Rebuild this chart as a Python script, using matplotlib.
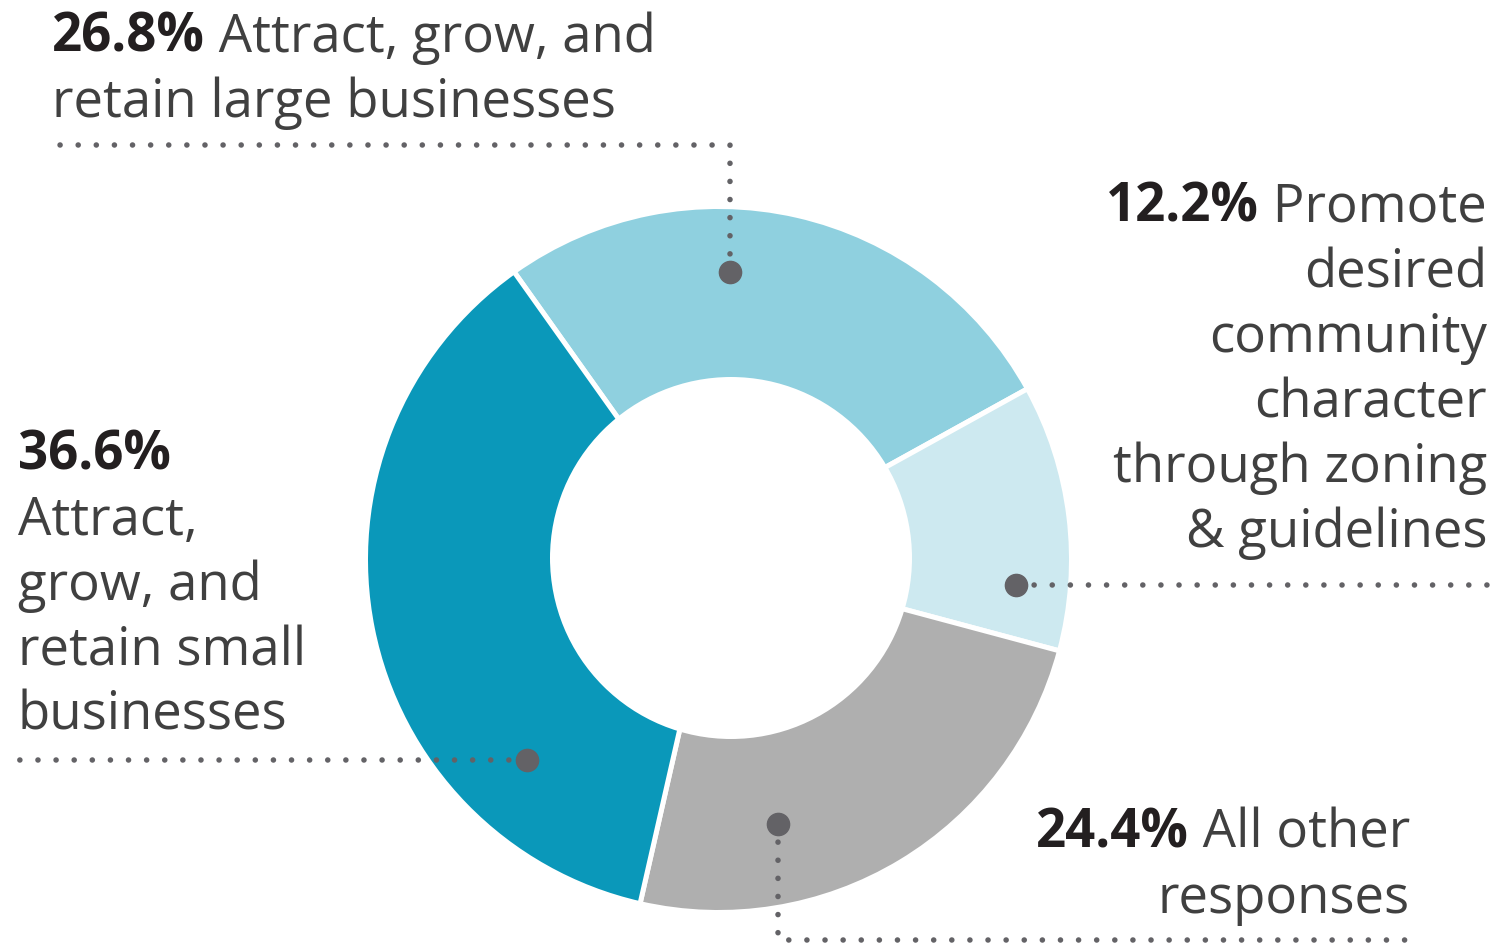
import numpy as np
import matplotlib
matplotlib.use("Agg")
import matplotlib.pyplot as plt
from matplotlib.patches import Circle

# Share of responses by economic development priority
categories = [
    "Attract, grow, and retain large businesses",
    "Promote desired community character through zoning & guidelines",
    "All other responses",
    "Attract, grow, and retain small businesses",
]
shares = [26.8, 12.2, 24.4, 36.6]
pct_labels = ["26.8%", "12.2%", "24.4%", "36.6%"]

COLORS = ["#8FD0DF", "#CDE9F0", "#AFAFAF", "#0A98BA"]
TEXT = "#404040"
BOLD = "#231F20"
DOT = "#636266"
FONT = "Open Sans"

W, H = 1493, 944
CX, CY = 718.5, H - 559.5      # ring centre (y measured upward)
R_OUT = 353
HOLE_X, HOLE_Y, R_IN = 731, H - 558, 181
FS = 38


def py(y):
    """Convert a top-down pixel row to the upward axis coordinate."""
    return H - y


fig = plt.figure(figsize=(W / 100, H / 100), dpi=100)
fig.patch.set_facecolor("white")
ax = fig.add_axes([0, 0, 1, 1])

ax.pie(shares, colors=COLORS, startangle=125.4, counterclock=False,
       radius=R_OUT, center=(CX, CY),
       wedgeprops=dict(edgecolor="white", linewidth=3.6))
ax.add_patch(Circle((HOLE_X, HOLE_Y), R_IN, facecolor="white",
                    edgecolor="none", zorder=3))
ax.set_xlim(0, W)
ax.set_ylim(0, H)
ax.set_aspect("equal")
ax.axis("off")

renderer = fig.canvas.get_renderer()


def text_width(s, weight):
    t = ax.text(0, 0, s, fontsize=FS, fontfamily=FONT, fontweight=weight)
    w = t.get_window_extent(renderer).width
    t.remove()
    return w


def draw_line(segments, x, y, align="left"):
    """Draw a line made of (text, bold?) pieces, anchored on its baseline."""
    widths = [text_width(s, "bold" if b else "normal") for s, b in segments]
    x0 = x if align == "left" else x - sum(widths)
    for (s, b), w in zip(segments, widths):
        ax.text(x0, py(y), s, fontsize=FS, fontfamily=FONT,
                fontweight="bold" if b else "normal",
                color=BOLD if b else TEXT, va="baseline", ha="left")
        x0 += w


# label blocks: list of lines, each line a list of (text, bold)
LINE = 65
blocks = [
    ((52, 52), "left", [[(pct_labels[0], True), (" Attract, grow, and", False)],
                        [("retain large businesses", False)]]),
    ((1487, 222), "right", [[(pct_labels[1], True), (" Promote", False)],
                            [("desired", False)], [("community", False)],
                            [("character", False)], [("through zoning", False)],
                            [("& guidelines", False)]]),
    ((1410, 848), "right", [[(pct_labels[2], True), (" All other", False)],
                            [("responses", False)]]),
    ((18, 470), "left", [[(pct_labels[3], True)], [("Attract,", False)],
                         [("grow, and", False)], [("retain small", False)],
                         [("businesses", False)]]),
]
for (x, y), align, lines in blocks:
    for i, segs in enumerate(lines):
        draw_line(segs, x, y + i * LINE, align)

# callout dots and dotted leader lines (pixel rows measured from the top)
leaders = [
    [(730, 272), (730, 145), (52, 145)],
    [(1016, 585), (1487, 585)],
    [(778, 824), (778, 940), (1405, 940)],
    [(527, 760), (18, 760)],
]
for pts in leaders:
    xs = [p[0] for p in pts]
    ys = [py(p[1]) for p in pts]
    ax.plot(xs, ys, color=DOT, linewidth=4.0, linestyle=(0, (0.01, 3.25)),
            dash_capstyle="round", solid_capstyle="round", zorder=4)
    ax.plot(xs[0], ys[0], "o", color=DOT, markersize=16, zorder=5)

fig.savefig("out.png", dpi=100, facecolor="white")
